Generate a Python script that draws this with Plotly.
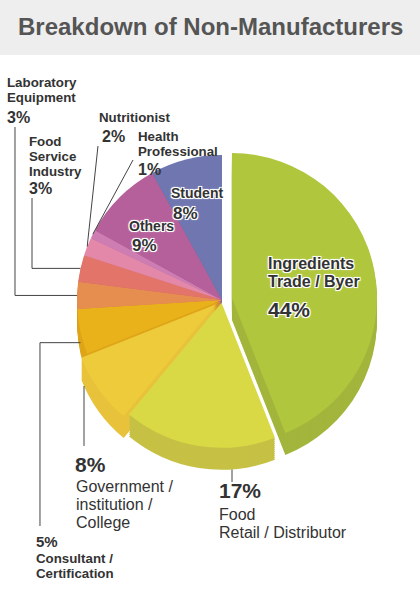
import math

import plotly.graph_objects as go

W, H = 420, 600
FONT = "Liberation Sans, Arial, sans-serif"
HALO = "-1px -1px 0 #fff, 1px -1px 0 #fff, -1px 1px 0 #fff, 1px 1px 0 #fff, 0 0 3px #fff"

# data (clockwise from 12 o'clock)
categories = [
    "Ingredients<br>Trade / Byer",
    "Food<br>Retail / Distributor",
    "Government /<br>institution /<br>College",
    "Consultant /<br>Certification",
    "Laboratory<br>Equipment",
    "Food<br>Service<br>Industry",
    "Nutritionist",
    "Health<br>Professional",
    "Others",
    "Student",
]
shares = [44, 17, 8, 5, 3, 3, 2, 1, 9, 8]

# styling
top_colors = ["#B0C73D", "#D9D945", "#EECB3B", "#EAB21A", "#E68E4F",
              "#E2746A", "#E388A9", "#CD7DB2", "#B5609B", "#6F76B0"]
side_colors = ["#A3B53C", "#C6C144", "#E8C23A", "#DEA518", "#D8824A",
               "#D26A60", "#D27D9C", "#BE72A4", "#A5578D", "#646BA1"]
pulls = [0.07, 0.02, 0.05, 0, 0, 0, 0, 0, 0, 0]

# pie placement in pixels
CX, CY, R, DEPTH = 222, 300, 145, 22

# label placement: x, line centers of the name, x/y of the percent, sizes
label_layout = [
    dict(x=267, ys=[263.5, 281.5], px=267, py=309.5, ns=16, nb=True, ps=21, halo=True),
    dict(x=218, ys=[514, 532], px=218, py=490.5, ns=16, nb=False, ps=21, halo=False),
    dict(x=75, ys=[486, 504, 522], px=74, py=464, ns=16, nb=False, ps=21, halo=False),
    dict(x=35, ys=[558, 573], px=35, py=541.5, ns=13.3, nb=True, ps=15, halo=False),
    dict(x=6, ys=[82, 97.2], px=6, py=117.5, ns=13.3, nb=True, ps=16, halo=False),
    dict(x=28, ys=[141.5, 156.5, 171.5], px=28, py=189, ns=13.3, nb=True, ps=16, halo=False),
    dict(x=98, ys=[117], px=101, py=137, ns=13.3, nb=True, ps=16, halo=False),
    dict(x=137, ys=[136.5, 151.5], px=137, py=169, ns=13.3, nb=True, ps=16, halo=False),
    dict(x=128, ys=[226], px=131, py=246, ns=14, nb=True, ps=17, halo=True),
    dict(x=170, ys=[193], px=172, py=213, ns=14, nb=True, ps=17, halo=True),
]

total = sum(shares)
plain_names = [c.replace("<br>", " ") for c in categories]


def slice_mid(i):
    start = sum(shares[:i]) / total * 360
    return math.radians(start + shares[i] / total * 180)


def pull_offset(i):
    a = slice_mid(i)
    d = pulls[i] * R
    return d * math.sin(a), -d * math.cos(a)


def rim(i, drop=0):
    a = slice_mid(i)
    ox, oy = pull_offset(i)
    return CX + ox + R * math.sin(a), CY + drop + oy - R * math.cos(a)


def bottom_at(i, x):
    ox, oy = pull_offset(i)
    return CY + DEPTH + oy + math.sqrt(R ** 2 - (x - CX - ox) ** 2)


def pie_layer(colors, shift, hover=True):
    half = R * (1 + max(pulls))
    return go.Pie(
        labels=plain_names, values=shares, sort=False,
        direction="clockwise", rotation=0, pull=pulls,
        marker=dict(colors=colors, line=dict(width=0)),
        textinfo="none", showlegend=False,
        hoverinfo="label+percent" if hover else "skip",
        domain=dict(x=[(CX - half) / W, (CX + half) / W],
                    y=[1 - (CY + shift + half) / H, 1 - (CY + shift - half) / H]),
    )


fig = go.Figure()
# stacked darker copies give the pie its thickness
for k in range(DEPTH, 0, -2):
    fig.add_trace(pie_layer(side_colors, k, hover=False))
fig.add_trace(pie_layer(top_colors, 0))


def text_ann(text, x, y, size, bold=True, halo=False, color="#333333"):
    font = dict(family=FONT, size=size, color=color, weight="bold" if bold else "normal")
    if halo:
        font["shadow"] = HALO
    return dict(text=text, x=x / W, y=1 - y / H, xref="paper", yref="paper",
                xanchor="left", yanchor="middle", showarrow=False, borderpad=0, font=font)


annotations = [dict(
    text="Breakdown of Non-Manufacturers", x=0.5, y=1 - 26.5 / H,
    xref="paper", yref="paper", xanchor="center", yanchor="middle", showarrow=False,
    font=dict(family=FONT, size=24, color="#555555", weight="bold"),
)]
for name, value, lay in zip(categories, shares, label_layout):
    for line, y in zip(name.split("<br>"), lay["ys"]):
        annotations.append(text_ann(line, lay["x"], y, lay["ns"], lay["nb"], lay["halo"]))
    annotations.append(text_ann(f"{value}%", lay["px"], lay["py"], lay["ps"], True, lay["halo"]))

# leader lines from outside labels to their slices
lab, fserv, nutri, health, cons = rim(4), rim(5), rim(6), rim(7), rim(3, DEPTH / 2)
leaders = [
    [(15, 127), (15, lab[1]), lab],
    [(32, 198), (32, fserv[1]), fserv],
    [(98, 146), nutri],
    [(133, 160), health],
    [(40, 526), (40, cons[1]), cons],
    [(84, 446), (84, bottom_at(2, 84))],
    [(232, 482), (232, bottom_at(1, 232))],
]
shapes = [dict(type="rect", xref="paper", yref="paper", x0=0, x1=1, y0=1 - 55 / H, y1=1,
               fillcolor="#EEEEEE", line=dict(width=0), layer="below")]
for pts in leaders:
    path = "M " + " L ".join(f"{x / W:.4f},{1 - y / H:.4f}" for x, y in pts)
    shapes.append(dict(type="path", path=path, xref="paper", yref="paper",
                       line=dict(color="#444444", width=1)))

fig.update_layout(
    width=W, height=H,
    margin=dict(l=0, r=0, t=0, b=0),
    paper_bgcolor="white", plot_bgcolor="white",
    annotations=annotations, shapes=shapes,
)
fig.write_html("out.html", config={"displayModeBar": False},
               post_script="document.body.style.margin='0';")
